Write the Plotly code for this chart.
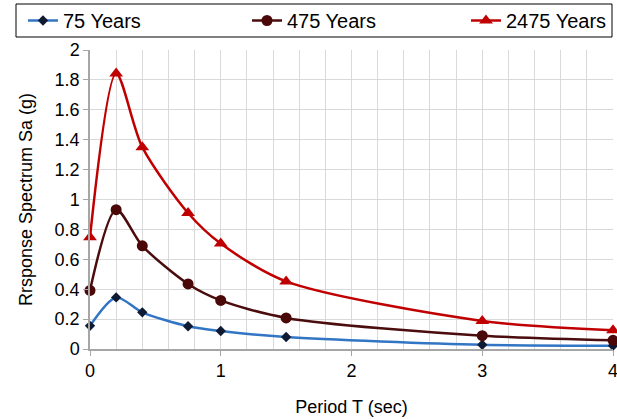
import plotly.graph_objects as go

periods = [0, 0.2, 0.4, 0.75, 1, 1.5, 3, 4]
sa_75 = [0.155, 0.345, 0.245, 0.152, 0.12, 0.08, 0.028, 0.022]
sa_475 = [0.392, 0.932, 0.69, 0.435, 0.325, 0.208, 0.089, 0.058]
sa_2475 = [0.748, 1.843, 1.35, 0.91, 0.705, 0.452, 0.188, 0.125]
names = ["75 Years", "475 Years", "2475 Years"]

fig = go.Figure()
fig.add_trace(go.Scatter(x=periods, y=sa_75, name=names[0], mode="lines+markers", legend="legend",
                         line=dict(color="#3275c4", width=2.5, shape="spline", smoothing=0.8),
                         marker=dict(symbol="diamond", size=8, color="#0f1a33"), cliponaxis=False))
fig.add_trace(go.Scatter(x=periods, y=sa_475, name=names[1], mode="lines+markers", legend="legend2",
                         line=dict(color="#4a0c0c", width=2.5, shape="spline", smoothing=0.8),
                         marker=dict(symbol="circle", size=11, color="#4a0808"), cliponaxis=False))
fig.add_trace(go.Scatter(x=periods, y=sa_2475, name=names[2], mode="lines+markers", legend="legend3",
                         line=dict(color="#c00000", width=2.5, shape="spline", smoothing=0.8),
                         marker=dict(symbol="triangle-up", size=12, color="#c00000"), cliponaxis=False))

W, H = 617, 419
L, R, T, B = 90, 4, 50, 70
pw, ph = W - L - R, H - T - B


def px_x(p):
    return (p - L) / pw


def px_y(p):
    return (H - B - p) / ph


leg_common = dict(orientation="h", xanchor="left", yanchor="middle", y=px_y(20.5),
                  bgcolor="rgba(0,0,0,0)", borderwidth=0, font=dict(size=20),
                  itemsizing="trace")

fig.update_layout(
    width=W, height=H,
    margin=dict(l=L, r=R, t=T, b=B, autoexpand=False),
    paper_bgcolor="white", plot_bgcolor="white",
    font=dict(family="Liberation Sans, Arial, sans-serif", size=18, color="#000000"),
    showlegend=True,
    legend=dict(x=px_x(23), **leg_common),
    legend2=dict(x=px_x(247), **leg_common),
    legend3=dict(x=px_x(466), **leg_common),
    shapes=[dict(type="rect", xref="paper", yref="paper",
                 x0=px_x(16), x1=px_x(612), y0=px_y(37), y1=px_y(4),
                 line=dict(color="#000000", width=1), fillcolor="rgba(0,0,0,0)", layer="above")],
)
fig.update_xaxes(range=[0, 4], dtick=1, tick0=0, showgrid=True, gridcolor="#d9d9d9",
                 minor=dict(dtick=0.2, showgrid=True, gridcolor="#d9d9d9"),
                 showline=True, linecolor="#a6a6a6", linewidth=1.5,
                 ticks="outside", ticklen=5, tickcolor="#a6a6a6", ticklabeloverflow="allow",
                 zeroline=False, title=dict(text="Period T (sec)", standoff=20, font=dict(size=18)),
                 tickfont=dict(size=18))
fig.update_yaxes(range=[0, 2], dtick=0.2, tick0=0, showgrid=True, gridcolor="#d9d9d9",
                 showline=True, linecolor="#a6a6a6", linewidth=1.5,
                 ticks="outside", ticklen=5, tickcolor="#a6a6a6", ticklabeloverflow="allow",
                 zeroline=False, title=dict(text="Rrsponse Spectrum Sa (g)", standoff=17, font=dict(size=18)),
                 tickfont=dict(size=18))

fig.write_html("out.html", config={"displayModeBar": False},
               post_script="document.body.style.margin='0';")
